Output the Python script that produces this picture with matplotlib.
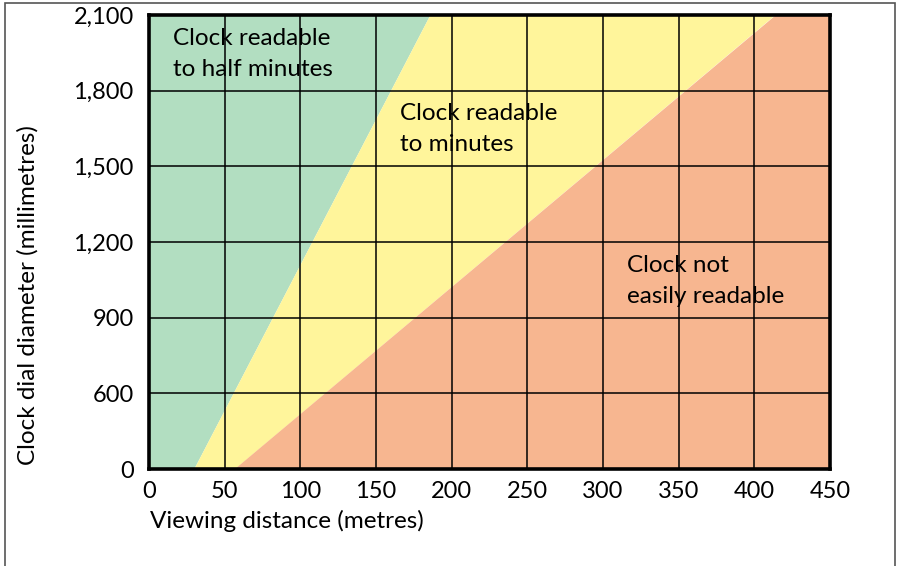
import numpy as np
import matplotlib
matplotlib.use('Agg')
import matplotlib.pyplot as plt
from matplotlib.patches import Rectangle

# boundaries between zones: viewing distance (m) at dial diameter 0 and 2100 mm
diam_ends = [0, 2100]
half_min_edge = [30, 186]
minute_edge = [57, 414]

x_ticks = [0, 50, 100, 150, 200, 250, 300, 350, 400, 450]
y_ticks = [0, 600, 900, 1200, 1500, 1800, 2100]

zone_labels = ['Clock readable\nto half minutes', 'Clock readable\nto minutes',
               'Clock not\neasily readable']
zone_colors = ['#b2dec1', '#fff59b', '#f7b690']

plt.rcParams['font.family'] = ['Lato', 'DejaVu Sans']


# y axis: 0-600 squeezed into one grid step
def fwd(y):
    y = np.asarray(y, dtype=float)
    return np.where(y <= 600, y / 2, y - 300)


def inv(v):
    v = np.asarray(v, dtype=float)
    return np.where(v <= 300, v * 2, v + 300)


fig = plt.figure(figsize=(9.03, 5.66), dpi=100)
ax = fig.add_axes([149 / 903, 1 - 469 / 566, 681 / 903, 454 / 566])
ax.set_yscale('function', functions=(fwd, inv))
ax.set_xlim(0, 450)
ax.set_ylim(diam_ends[0], diam_ends[1])

xmax = 450
y0, y1 = diam_ends
ax.fill([0, half_min_edge[0], half_min_edge[1], 0],
        [y0, y0, y1, y1], color=zone_colors[0], lw=0, zorder=0)
ax.fill([half_min_edge[0], minute_edge[0], minute_edge[1], half_min_edge[1]],
        [y0, y0, y1, y1], color=zone_colors[1], lw=0, zorder=0)
ax.fill([minute_edge[0], xmax, xmax, minute_edge[1]],
        [y0, y0, y1, y1], color=zone_colors[2], lw=0, zorder=0)

ax.set_xticks(x_ticks)
ax.set_yticks(y_ticks)
ax.set_yticklabels(['{:,}'.format(v) for v in y_ticks])
ax.tick_params(length=0, labelsize=17)
ax.tick_params(axis='x', pad=9)
ax.tick_params(axis='y', pad=11)
ax.grid(True, color='black', lw=1.1)
ax.set_axisbelow(False)
for s in ax.spines.values():
    s.set_linewidth(2.6)
    s.set_zorder(5)

fs = 17.5
ax.text(0.035, 0.914, zone_labels[0], transform=ax.transAxes, fontsize=fs,
        va='center', ha='left', linespacing=1.55)
ax.text(0.369, 0.749, zone_labels[1], transform=ax.transAxes, fontsize=fs,
        va='center', ha='left', linespacing=1.55)
ax.text(0.702, 0.414, zone_labels[2], transform=ax.transAxes, fontsize=fs,
        va='center', ha='left', linespacing=1.55)

fig.text(150 / 903, 1 - 521 / 566, 'Viewing distance (metres)', fontsize=fs,
         ha='left', va='center')
fig.text(28 / 903, 1 - 295 / 566, 'Clock dial diameter (millimetres)', fontsize=fs,
         ha='center', va='center', rotation=90)

fig.patches.append(Rectangle((5 / 903, -0.2), 890 / 903, 1.2 - 3 / 566,
                             transform=fig.transFigure, fill=False,
                             edgecolor='#555555', lw=1.2))

fig.savefig('out.png', dpi=100)
